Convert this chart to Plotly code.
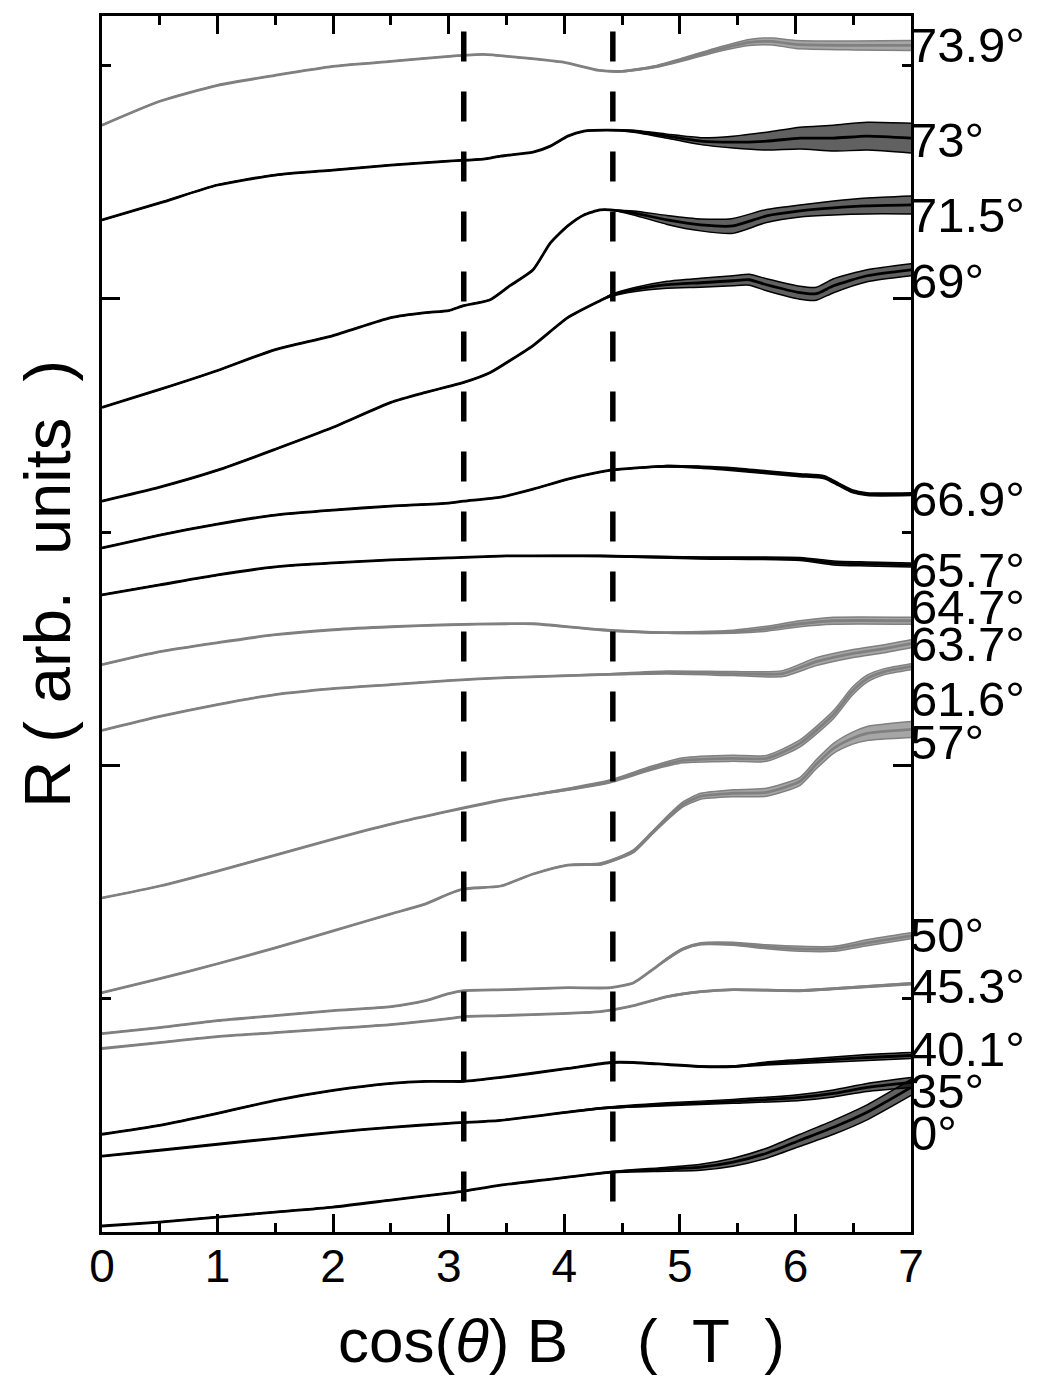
import plotly.graph_objects as go

# ---------------- data (R in arbitrary units, x = cos(theta) B in tesla) ----------------
x_739 = [0, 0.5, 1, 1.5, 2, 2.5, 3, 3.3, 3.6, 4, 4.3, 4.5, 4.8, 5, 5.3, 5.6, 5.8, 6, 6.5, 7]
r_739 = [1110, 1134, 1150, 1160, 1169, 1174, 1179, 1181, 1178, 1173, 1165, 1164, 1169, 1175, 1185, 1193, 1194, 1191, 1190, 1190]
a_739 = [0, 0, 0, 0, 0, 0, 0, 0, 0, 0, 0, 0.5, 1, 1.5, 2, 3, 3.5, 4, 4.5, 5]

x_73 = [0, 0.5, 1, 1.5, 2, 2.5, 3, 3.3, 3.45, 3.73, 3.88, 4.03, 4.17, 4.37, 4.6, 4.89, 5.18, 5.46, 5.75, 6.04, 6.33, 6.62, 7]
r_73 = [1015, 1032, 1050, 1060, 1065, 1070, 1074, 1076, 1079, 1083, 1089, 1099, 1104, 1105, 1104, 1099, 1094, 1093, 1094, 1097, 1097, 1099, 1097]
a_73 = [0, 0, 0, 0, 0, 0, 0, 0, 0, 0, 0, 0, 0, 0, 1, 2, 3.5, 6, 9, 11, 13, 14, 15]

x_715 = [0, 0.5, 1, 1.5, 2, 2.5, 2.8, 3, 3.13, 3.36, 3.53, 3.73, 3.88, 4.03, 4.17, 4.31, 4.4, 4.6, 4.89, 5.18, 5.46, 5.75, 6.04, 6.33, 6.62, 7]
r_715 = [827, 845, 864, 885, 899, 917, 922, 924, 929, 935, 949, 965, 992, 1009, 1020, 1025, 1025, 1022, 1015, 1010, 1009, 1019, 1024, 1027, 1029, 1030]
a_715 = [0, 0, 0, 0, 0, 0, 0, 0, 0, 0, 0, 0, 0, 0, 0, 0, 0, 2, 4.5, 6, 7.5, 6.5, 6, 7, 8, 9]

x_69 = [0, 0.5, 1, 1.5, 2, 2.5, 2.8, 3, 3.13, 3.36, 3.53, 3.73, 4.03, 4.31, 4.4, 4.6, 4.89, 5.18, 5.46, 5.6, 5.75, 6.04, 6.18, 6.33, 6.62, 7]
r_69 = [733, 747, 764, 785, 807, 832, 842, 848, 852, 862, 874, 889, 917, 934, 939, 945, 950, 952, 954, 955, 950, 942, 941, 949, 959, 965]
a_69 = [0, 0, 0, 0, 0, 0, 0, 0, 0, 0, 0, 0, 0, 0, 1, 2, 3.5, 4.5, 5, 5.5, 6, 6.5, 6.5, 7, 6, 6]

x_669 = [0, 0.5, 1, 1.5, 2, 2.5, 3, 3.13, 3.45, 3.73, 4.03, 4.4, 4.6, 4.89, 5.18, 5.46, 5.75, 6.04, 6.25, 6.37, 6.49, 6.62, 7]
r_669 = [686, 699, 710, 719, 724, 728, 731, 733, 737, 745, 755, 764, 766, 768, 767, 765, 762, 759, 757, 750, 743, 740, 740]
a_669 = [0, 0, 0, 0, 0, 0, 0, 0, 0, 0, 0, 0, 0, 0.8, 1, 1.5, 1.5, 1.5, 1.5, 1.5, 1.5, 1.5, 1.5]

x_657 = [0, 0.5, 1, 1.5, 2, 2.5, 3, 3.5, 4.31, 5.18, 6.04, 6.33, 6.62, 7]
r_657 = [639, 649, 659, 667, 671, 674, 676, 678, 678, 676, 675, 671, 670, 669]
a_657 = [0, 0, 0, 0, 0, 0, 0, 0, 0.5, 1, 1.5, 2, 2, 2]

x_647 = [0, 0.5, 1, 1.5, 2, 2.5, 3, 3.5, 3.73, 4.31, 4.89, 5.46, 5.75, 6.04, 6.33, 7]
r_647 = [569, 582, 591, 599, 604, 607, 609, 610, 610, 604, 601, 602, 605, 610, 613, 613]
a_647 = [0, 0, 0, 0, 0, 0, 0, 0, 0, 0.5, 0.5, 1.5, 2.5, 3, 3.5, 3.5]

x_637 = [0, 0.5, 1, 1.5, 2, 2.5, 3, 3.5, 4.31, 4.89, 5.46, 5.89, 6.18, 6.49, 6.77, 7]
r_637 = [503, 517, 529, 539, 545, 549, 553, 556, 559, 561, 560, 560, 572, 580, 585, 590]
a_637 = [0, 0, 0, 0, 0, 0, 0, 0, 0.5, 1.5, 2, 3, 4, 4, 4, 4]

x_616 = [0, 0.5, 1, 1.5, 2, 2.5, 3, 3.5, 4.03, 4.4, 4.75, 5.03, 5.46, 5.75, 6.04, 6.33, 6.49, 6.62, 6.77, 7]
r_616 = [335, 347, 362, 378, 394, 409, 422, 434, 444, 452, 465, 473, 475, 475, 490, 519, 542, 555, 562, 567]
a_616 = [0, 0, 0, 0, 0, 0, 0, 0, 1, 1.5, 2, 2.5, 3, 3, 3.5, 4, 4, 3.5, 3, 3]

x_57 = [0, 0.5, 1, 1.5, 2, 2.5, 2.8, 3, 3.13, 3.45, 3.73, 4.03, 4.31, 4.4, 4.6, 4.75, 4.89, 5.03, 5.18, 5.46, 5.75, 6.04, 6.18, 6.33, 6.49, 6.62, 7]
r_57 = [240, 254, 269, 285, 302, 319, 329, 339, 344, 347, 359, 368, 369, 372, 382, 399, 415, 429, 437, 440, 441, 452, 469, 485, 495, 500, 504]
a_57 = [0, 0, 0, 0, 0, 0, 0, 0, 0, 0, 0, 0, 1, 1, 1.5, 1.5, 2, 2.5, 3, 3.5, 4, 4, 4.5, 5, 6, 7, 8]

x_50 = [0, 0.5, 1, 1.5, 2, 2.5, 2.8, 3, 3.13, 3.5, 4.03, 4.4, 4.6, 4.75, 4.89, 5.03, 5.18, 5.46, 5.75, 6.04, 6.33, 6.62, 7]
r_50 = [199, 205, 212, 217, 222, 226, 232, 239, 242, 243, 245, 245, 250, 262, 274, 284, 289, 289, 286, 284, 284, 290, 297]
a_50 = [0, 0, 0, 0, 0, 0, 0, 0, 0, 0, 0, 0, 0, 0, 1, 1, 1, 1.5, 2, 2.5, 2.5, 3, 3]

x_453 = [0, 0.5, 1, 1.5, 2, 2.5, 3, 3.13, 3.45, 4.31, 4.6, 4.89, 5.18, 5.46, 6.04, 6.33, 7]
r_453 = [184, 190, 196, 200, 204, 208, 214, 216, 217, 221, 227, 236, 241, 243, 242, 244, 249]
a_453 = [0, 0, 0, 0, 0, 0, 0, 0, 0, 0, 0, 0.5, 0.5, 0.5, 0.8, 0.8, 1]

x_401 = [0, 0.5, 1, 1.5, 2, 2.5, 2.8, 3, 3.13, 3.45, 4.03, 4.4, 4.6, 4.89, 5.18, 5.46, 5.75, 6.04, 6.33, 6.62, 7]
r_401 = [98, 107, 119, 132, 142, 149, 151, 151, 151, 155, 164, 170, 170, 168, 166, 166, 169, 171, 173, 175, 177]
a_401 = [0, 0, 0, 0, 0, 0, 0, 0, 0, 0, 0, 0, 0, 0, 0.3, 0.5, 1.5, 2, 2.5, 3, 3]

x_35 = [0, 0.5, 1, 1.5, 2, 2.5, 3, 3.45, 4.31, 4.89, 5.46, 6.04, 6.33, 6.62, 7]
r_35 = [76, 82, 88, 94, 100, 105, 109, 112, 124, 128, 131, 135, 139, 145, 150]
a_35 = [0, 0, 0, 0, 0, 0, 0, 0, 0.5, 1.5, 2, 3, 3.5, 4, 5]

x_0 = [0, 0.5, 1, 1.5, 2, 2.5, 3, 3.13, 3.45, 4.03, 4.4, 4.89, 5.18, 5.46, 5.75, 6.04, 6.33, 6.62, 7]
r_0 = [6, 10, 15, 20, 25, 32, 39, 41, 47, 55, 60, 63, 65, 70, 79, 92, 105, 120, 145]
a_0 = [0, 0, 0, 0, 0, 0, 0, 0, 0, 0, 0.5, 2, 3, 4, 5, 6, 7, 7.5, 8]

angle_labels = ["73.9°", "73°", "71.5°", "69°", "66.9°", "65.7°", "64.7°", "63.7°",
                "61.6°", "57°", "50°", "45.3°", "40.1°", "35°", "0°"]
label_r = [1190, 1095, 1020, 954, 735, 664, 627, 590, 535, 491, 298, 247, 184, 141, 99]
gray_curves = ["73.9°", "64.7°", "63.7°", "61.6°", "57°", "50°", "45.3°"]

dash_x = [3.13, 4.42]
dash_r = [1204, 15]

x_ticks = [0, 1, 2, 3, 4, 5, 6, 7]

curves = [
    ("73.9°", x_739, r_739, a_739), ("73°", x_73, r_73, a_73), ("71.5°", x_715, r_715, a_715),
    ("69°", x_69, r_69, a_69), ("66.9°", x_669, r_669, a_669), ("65.7°", x_657, r_657, a_657),
    ("64.7°", x_647, r_647, a_647), ("63.7°", x_637, r_637, a_637), ("61.6°", x_616, r_616, a_616),
    ("57°", x_57, r_57, a_57), ("50°", x_50, r_50, a_50), ("45.3°", x_453, r_453, a_453),
    ("40.1°", x_401, r_401, a_401), ("35°", x_35, r_35, a_35), ("0°", x_0, r_0, a_0),
]

FONT = "Liberation Sans, Arial, sans-serif"
NB = "\u00a0"

fig = go.Figure()

for name, xs, rs, amps in curves:
    gray = name in gray_curves
    col = "#808080" if gray else "#000000"
    fillcol = "rgba(128,128,128,0.7)" if gray else "rgba(0,0,0,0.62)"
    if any(a > 0 for a in amps):
        up = [r + a for r, a in zip(rs, amps)]
        lo = [r - a for r, a in zip(rs, amps)]
        fig.add_trace(go.Scatter(x=xs, y=up, mode="lines", showlegend=False, hoverinfo="skip",
                                 line=dict(color=col, width=1.5, shape="spline", smoothing=0.6)))
        fig.add_trace(go.Scatter(x=xs, y=lo, mode="lines", showlegend=False, hoverinfo="skip",
                                 fill="tonexty", fillcolor=fillcol,
                                 line=dict(color=col, width=1.5, shape="spline", smoothing=0.6)))
    fig.add_trace(go.Scatter(x=xs, y=rs, mode="lines", name=name, showlegend=False,
                             line=dict(color=col, width=2.8, shape="spline", smoothing=0.6)))

for dx in dash_x:
    fig.add_trace(go.Scatter(x=[dx, dx], y=dash_r, mode="lines", showlegend=False, hoverinfo="skip",
                             line=dict(color="black", width=5.5, dash="30px,30px")))

for lab, ly in zip(angle_labels, label_r):
    fig.add_annotation(x=1.0, xref="paper", y=ly, yref="y", text=lab, showarrow=False,
                       xanchor="left", yanchor="middle", xshift=-3,
                       font=dict(family=FONT, size=49, color="black"))

# axis titles as annotations (placed like the original, off-centre)
fig.add_annotation(x=0, xref="paper", xshift=-54, y=650, yref="y", textangle=-90,
                   text="R" + NB + "(" + NB + "arb." + NB * 2 + "units" + NB * 2 + ")",
                   showarrow=False, xanchor="center", yanchor="middle",
                   font=dict(family=FONT, size=65, color="black"))
fig.add_annotation(x=3.98, xref="x", y=0, yref="paper", yshift=-108,
                   text="cos(<i>θ</i>) B" + NB * 4 + "(" + NB * 2 + "T" + NB * 2 + ")",
                   showarrow=False, xanchor="center", yanchor="middle",
                   font=dict(family=FONT, size=62, color="black"))

fig.update_layout(
    width=1043, height=1376,
    margin=dict(l=93.5, r=139.5, t=4.5, b=152),
    paper_bgcolor="white", plot_bgcolor="white",
    xaxis=dict(range=[0, 7], tickvals=x_ticks, ticks="inside", ticklen=18, tickwidth=2.5,
               tickcolor="black", showline=True, linewidth=3, linecolor="black", mirror="allticks",
               showgrid=False, zeroline=False, ticklabelstandoff=-8,
               minor=dict(dtick=0.5, ticks="inside", ticklen=9, tickwidth=2.5, tickcolor="black", showgrid=False),
               tickfont=dict(family=FONT, size=46, color="black")),
    yaxis=dict(range=[0, 1219.5], dtick=468, tick0=0, ticks="inside", ticklen=18, tickwidth=2.5,
               tickcolor="black", showline=True, linewidth=3, linecolor="black", mirror="allticks",
               showgrid=False, zeroline=False, showticklabels=False,
               minor=dict(dtick=234, ticks="inside", ticklen=9, tickwidth=2.5, tickcolor="black", showgrid=False)),
)

fig.write_html("out.html")
